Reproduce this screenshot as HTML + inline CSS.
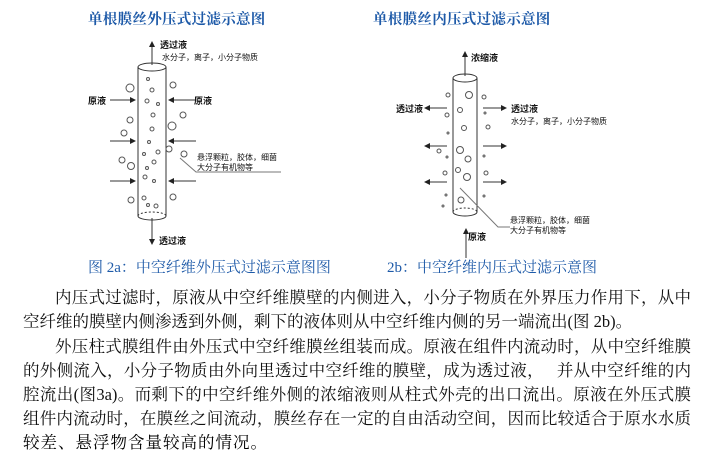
<!DOCTYPE html>
<html><head><meta charset="utf-8"><style>
body{margin:0;width:721px;height:459px;background:#fff;position:relative;overflow:hidden;font-family:"Liberation Serif","Noto Serif CJK SC",serif;}
.t{position:absolute;white-space:nowrap;}
.ln{position:absolute;left:23px;width:668px;font-size:16.5px;line-height:20px;text-align:justify;text-align-last:justify;color:#111;white-space:nowrap;}
.blue{color:#1e5aa8;}
</style></head><body>
<svg width="721" height="280" style="position:absolute;left:0;top:0" font-family="Liberation Sans,Noto Sans CJK SC,sans-serif">
<defs><marker id="a" markerWidth="6" markerHeight="6" refX="5" refY="3" orient="auto"><path d="M0,0 L6,3 L0,6z" fill="#222"/></marker></defs>
<g stroke="#333" fill="none" stroke-width="1">
<ellipse cx="152" cy="67" rx="14" ry="4"/>
<line x1="138" y1="67" x2="138" y2="216"/><line x1="166" y1="67" x2="166" y2="216"/>
<path d="M138,216 A14,4 0 0 0 166,216"/><path d="M138,216 A14,4 0 0 1 166,216" stroke-dasharray="2,2"/>
<line x1="152" y1="65" x2="152" y2="42" marker-end="url(#a)"/>
<line x1="152" y1="218" x2="152" y2="244" marker-end="url(#a)"/>
<line x1="110" y1="100" x2="135" y2="100" marker-end="url(#a)"/>
<line x1="110" y1="141" x2="135" y2="141" marker-end="url(#a)"/>
<line x1="110" y1="181" x2="135" y2="181" marker-end="url(#a)"/>
<line x1="196" y1="100" x2="169" y2="100" marker-end="url(#a)"/>
<line x1="196" y1="141" x2="169" y2="141" marker-end="url(#a)"/>
<line x1="196" y1="181" x2="169" y2="181" marker-end="url(#a)"/>
<polyline points="180,158 196,172 281,172" stroke="#777"/>
<g stroke="#555">
<circle cx="130" cy="88" r="4"/><circle cx="173" cy="85" r="3"/><circle cx="130" cy="120" r="3"/><circle cx="124" cy="133" r="3"/>
<circle cx="183" cy="115" r="3"/><circle cx="172" cy="126" r="4"/><circle cx="169" cy="149" r="3"/><circle cx="184" cy="154" r="3"/>
<circle cx="122" cy="160" r="3"/><circle cx="131" cy="166" r="3.5"/><circle cx="131" cy="200" r="3"/><circle cx="173" cy="197" r="3"/>
<circle cx="148" cy="79" r="1.5"/><circle cx="152" cy="90" r="2"/><circle cx="147" cy="101" r="2"/><circle cx="158" cy="104" r="1.5"/>
<circle cx="153" cy="115" r="2"/><circle cx="152" cy="129" r="2"/><circle cx="149" cy="142" r="1.5"/><circle cx="158" cy="152" r="2"/>
<circle cx="144" cy="154" r="1.5"/><circle cx="154" cy="162" r="2"/><circle cx="147" cy="168" r="1.5"/><circle cx="145" cy="177" r="2"/>
<circle cx="154" cy="181" r="1.5"/><circle cx="144" cy="198" r="2"/><circle cx="148" cy="205" r="1.5"/><circle cx="156" cy="206" r="2"/>
</g>
<ellipse cx="465" cy="78" rx="12" ry="4"/>
<line x1="453" y1="78" x2="453" y2="212"/><line x1="477" y1="78" x2="477" y2="212"/>
<path d="M453,212 A12,4 0 0 0 477,212"/><path d="M453,212 A12,4 0 0 1 477,212" stroke-dasharray="2,2"/>
<line x1="465" y1="76" x2="465" y2="52" marker-end="url(#a)"/>
<line x1="466" y1="258" x2="466" y2="229" marker-end="url(#a)"/>
<line x1="447" y1="108" x2="425" y2="108" marker-end="url(#a)"/>
<line x1="447" y1="146" x2="425" y2="146" marker-end="url(#a)"/>
<line x1="447" y1="182" x2="425" y2="182" marker-end="url(#a)"/>
<line x1="483" y1="108" x2="506" y2="108" marker-end="url(#a)"/>
<line x1="483" y1="146" x2="506" y2="146" marker-end="url(#a)"/>
<line x1="483" y1="182" x2="506" y2="182" marker-end="url(#a)"/>
<polyline points="460,188 498,227 510,227" stroke="#777"/>
<g stroke="#555">
<circle cx="469" cy="95" r="3.5"/><circle cx="460" cy="110" r="2.5"/><circle cx="464" cy="128" r="2.5"/><circle cx="460" cy="150" r="3.5"/>
<circle cx="468" cy="159" r="3"/><circle cx="458" cy="170" r="2.5"/><circle cx="467" cy="177" r="3.5"/><circle cx="461" cy="200" r="3"/>
<circle cx="448" cy="95" r="2"/><circle cx="447" cy="115" r="2"/><circle cx="448" cy="133" r="1"/><circle cx="439" cy="151" r="2"/>
<circle cx="447" cy="157" r="1"/><circle cx="445" cy="173" r="2"/><circle cx="446" cy="195" r="1"/><circle cx="443" cy="206" r="1"/>
<circle cx="484" cy="97" r="2"/><circle cx="485" cy="113" r="1"/><circle cx="488" cy="127" r="2"/><circle cx="484" cy="156" r="1"/>
<circle cx="486" cy="173" r="2"/><circle cx="484" cy="196" r="1"/>
</g>
</g>
<g font-size="9" fill="#111">
<text x="160" y="48" font-weight="bold">透过液</text>
<text x="162" y="60" font-size="8">水分子，离子，小分子物质</text>
<text x="88" y="104" font-weight="bold">原液</text><text x="194" y="104" font-weight="bold">原液</text>
<text x="197" y="160" font-size="8">悬浮颗粒，胶体，细菌</text><text x="197" y="170" font-size="8">大分子有机物等</text>
<text x="159" y="244" font-weight="bold">透过液</text>
<text x="471" y="61" font-weight="bold">浓缩液</text>
<text x="396" y="112" font-weight="bold">透过液</text>
<text x="511" y="112" font-weight="bold">透过液</text>
<text x="511" y="124" font-size="8">水分子，离子，小分子物质</text>
<text x="510" y="223" font-size="8">悬浮颗粒，胶体，细菌</text><text x="510" y="233" font-size="8">大分子有机物等</text>
<text x="468" y="240" font-weight="bold">原液</text>
</g>
</svg>
<div class="t blue" style="left:88px;top:8px;font-size:14.5px;font-weight:bold;letter-spacing:0.3px">单根膜丝外压式过滤示意图</div>
<div class="t blue" style="left:373px;top:8px;font-size:14.5px;font-weight:bold;letter-spacing:0.3px">单根膜丝内压式过滤示意图</div>
<div class="t blue" style="left:88px;top:256px;font-size:15px;">图 2a：中空纤维外压式过滤示意图图</div>
<div class="t blue" style="left:387px;top:256px;font-size:15px;">2b：中空纤维内压式过滤示意图</div>
<div class="ln" style="top:288px;left:55px;width:636px">内压式过滤时，原液从中空纤维膜壁的内侧进入，小分子物质在外界压力作用下，从中</div>
<div class="ln" style="top:312px;width:600px">空纤维的膜壁内侧渗透到外侧，剩下的液体则从中空纤维内侧的另一端流出(图 2b)。</div>
<div class="ln" style="top:337px;left:55px;width:636px">外压柱式膜组件由外压式中空纤维膜丝组装而成。原液在组件内流动时，从中空纤维膜</div>
<div class="ln" style="top:361px">的外侧流入，小分子物质由外向里透过中空纤维的膜壁，成为透过液，&#12288;&#160;并从中空纤维的内</div>
<div class="ln" style="top:385px">腔流出(图3a)。而剩下的中空纤维外侧的浓缩液则从柱式外壳的出口流出。原液在外压式膜</div>
<div class="ln" style="top:409px">组件内流动时，在膜丝之间流动，膜丝存在一定的自由活动空间，因而比较适合于原水水质</div>
<div class="t" style="top:433px;left:23px;font-size:16.5px;line-height:20px;letter-spacing:1px">较差、悬浮物含量较高的情况。</div>
</body></html>
